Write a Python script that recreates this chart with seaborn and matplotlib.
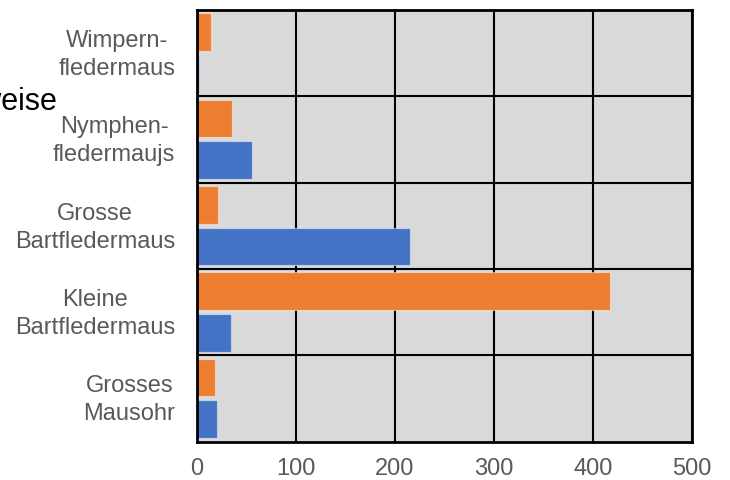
import numpy as np
import pandas as pd
import matplotlib
matplotlib.use("Agg")
import matplotlib.pyplot as plt
import matplotlib.transforms as mtransforms
import seaborn as sns

# Fledermausarten (von oben nach unten) und Anzahl der Nachweise je Serie
arten = ["Wimpern-\nfledermaus", "Nymphen-\nfledermaujs", "Grosse\nBartfledermaus",
         "Kleine\nBartfledermaus", "Grosses\nMausohr"]
serien = ["Serie 1", "Serie 2"]
werte_serie1 = [14, 36, 22, 417, 18]
werte_serie2 = [2, 56, 215, 35, 20]
x_ticks = [0, 100, 200, 300, 400, 500]

df = pd.DataFrame({
    "Art": arten * 2,
    "Serie": [serien[0]] * len(arten) + [serien[1]] * len(arten),
    "Anzahl": werte_serie1 + werte_serie2,
})

sns.set_theme(style="white")
plt.rcParams["font.family"] = ["Liberation Sans", "DejaVu Sans"]

fig = plt.figure(figsize=(7.3, 4.8), dpi=100)
W, H = 730, 480
ax = fig.add_axes([196.7 / W, 1 - 441.5 / H, (692 - 196.7) / W, (441.5 - 10) / H])
ax.set_facecolor("#D9D9D9")

sns.barplot(data=df, y="Art", x="Anzahl", hue="Serie", order=arten, hue_order=serien,
            palette=["#ED7D31", "#4472C4"], saturation=1, orient="h", width=0.966,
            gap=0.095, legend=False, ax=ax, edgecolor=(1, 1, 1, 0.45), linewidth=0.9)

ax.set_xlim(0, 500)
ax.set_ylim(len(arten) - 0.5, -0.5)
ax.set_xticks(x_ticks)
ax.set_xticklabels([str(t) for t in x_ticks])
ax.set_yticks(range(len(arten)))
ax.set_yticklabels(arten)
ax.set_yticks(np.arange(0.5, len(arten) - 0.5, 1), minor=True)

ax.set_axisbelow(True)
ax.grid(True, axis="x", which="major", color="black", linewidth=1.5)
ax.grid(True, axis="y", which="minor", color="black", linewidth=1.5)
ax.grid(False, axis="y", which="major")

ax.tick_params(axis="x", length=0, pad=12, labelsize=17, labelcolor="#595959")
ax.tick_params(axis="y", which="both", length=0, pad=15.5, labelsize=17, labelcolor="#595959")

# zweizeilige Artnamen zentriert und leicht nach oben gesetzt
lift = mtransforms.ScaledTranslation(0, 3.5 / 72 * 72 / 100, fig.dpi_scale_trans)
for lbl in ax.get_yticklabels():
    lbl.set_multialignment("center")
    lbl.set_linespacing(1.35)
    lbl.set_transform(lbl.get_transform() + lift)

for sp in ax.spines.values():
    sp.set_visible(True)
    sp.set_color("black")
    sp.set_linewidth(2)

ax.set_xlabel("")
ax.set_ylabel("")

fig.text(57 / W, 1 - 109.5 / H, "Nachweise", ha="right", va="baseline",
         fontsize=22, color="black")

fig.savefig("out.png", dpi=100)
